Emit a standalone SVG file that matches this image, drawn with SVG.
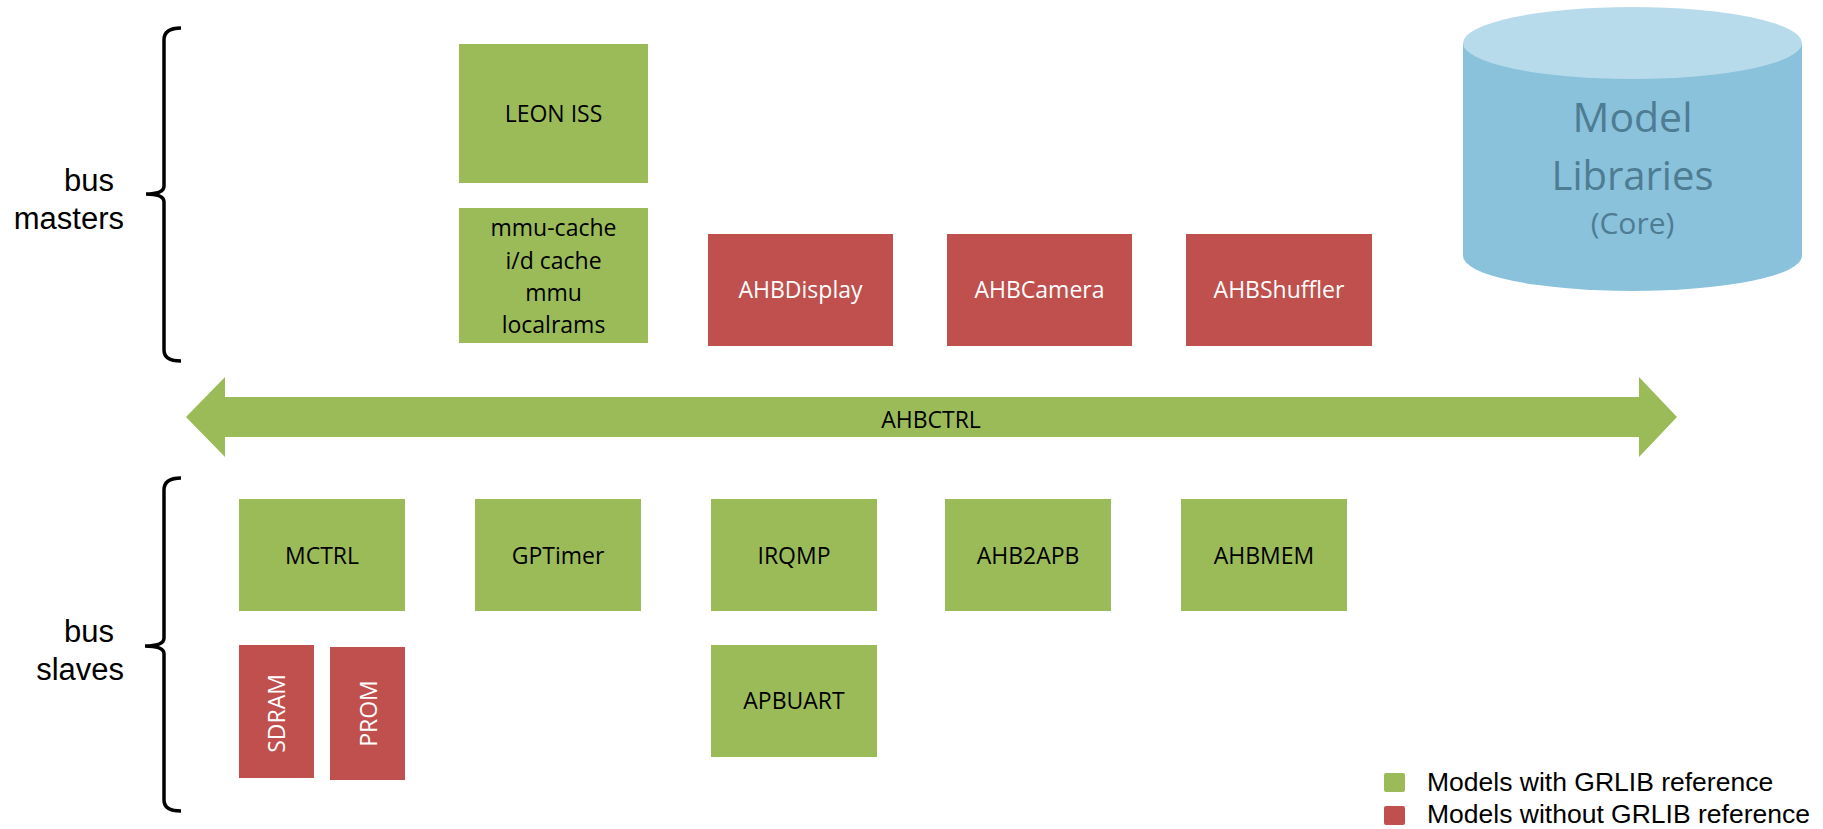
<svg xmlns="http://www.w3.org/2000/svg" width="1823" height="829" viewBox="0 0 1823 829">
<style>
.g{fill:#9bbb59}
.r{fill:#c0504d}
.t{font-family:"Open Sans","Liberation Sans",sans-serif;font-size:23px;text-anchor:middle;fill:#000}
.w{fill:#ffffff}
.lbl{font-family:"Liberation Sans",Arial,sans-serif;font-size:31px;fill:#000;text-anchor:end}
.leg{font-family:"Liberation Sans",Arial,sans-serif;font-size:26.5px;fill:#000}
.br{fill:none;stroke:#000;stroke-width:3.5}
.cyl{font-family:"Open Sans","Liberation Sans",sans-serif;text-anchor:middle;fill:#4e7c93}
</style>
<rect width="1823" height="829" fill="#ffffff"/>
<g id="brackets">
<path class="br" d="M181,28 Q164,28 164,40 L164,186 Q164,194 146,194 Q164,194 164,202 L164,350 Q164,361 181,361"/>
<path class="br" d="M181,478 Q164,478 164,490 L164,638 Q164,646 145,646 Q164,646 164,654 L164,800 Q164,811 181,811"/>
</g>
<g id="label-masters">
<text class="lbl" x="114" y="191">bus</text>
<text class="lbl" x="124" y="229">masters</text>
</g>
<g id="label-slaves">
<text class="lbl" x="114" y="642">bus</text>
<text class="lbl" x="124" y="680">slaves</text>
</g>
<g id="leon-iss">
<rect class="g" x="459" y="44" width="189" height="139"/>
<text class="t" x="553.5" y="122">LEON ISS</text>
</g>
<g id="mmu-cache">
<rect class="g" x="459" y="208" width="189" height="135"/>
<text class="t" x="553.5" y="236">mmu-cache</text>
<text class="t" x="553.5" y="268.5">i/d cache</text>
<text class="t" x="553.5" y="301">mmu</text>
<text class="t" x="553.5" y="333">localrams</text>
</g>
<g id="ahbdisplay">
<rect class="r" x="708" y="234" width="185" height="112"/>
<text class="t w" x="800.5" y="298">AHBDisplay</text>
</g>
<g id="ahbcamera">
<rect class="r" x="947" y="234" width="185" height="112"/>
<text class="t w" x="1039.5" y="298">AHBCamera</text>
</g>
<g id="ahbshuffler">
<rect class="r" x="1186" y="234" width="186" height="112"/>
<text class="t w" x="1279" y="298">AHBShuffler</text>
</g>
<g id="model-libraries">
<path d="M1463,43 L1463,256 A169.5,35 0 0 0 1802,256 L1802,43 Z" fill="#8ac2dc"/>
<ellipse cx="1632.5" cy="43" rx="169.5" ry="36" fill="#b8dbeb"/>
<text class="cyl" x="1632.5" y="132" font-size="41">Model</text>
<text class="cyl" x="1632.5" y="190" font-size="40">Libraries</text>
<text class="cyl" x="1632.5" y="234" font-size="30">(Core)</text>
</g>
<g id="connectors">
<g id="ahbctrl">
<polygon class="g" points="186,417 225,377 225,397 1639,397 1639,377 1677,417 1639,457 1639,437 225,437 225,457"/>
<text class="t" x="931" y="428">AHBCTRL</text>
</g>
</g>
<g id="mctrl">
<rect class="g" x="239" y="499" width="166" height="112"/>
<text class="t" x="322" y="564">MCTRL</text>
</g>
<g id="gptimer">
<rect class="g" x="475" y="499" width="166" height="112"/>
<text class="t" x="558" y="564">GPTimer</text>
</g>
<g id="irqmp">
<rect class="g" x="711" y="499" width="166" height="112"/>
<text class="t" x="794" y="564">IRQMP</text>
</g>
<g id="ahb2apb">
<rect class="g" x="945" y="499" width="166" height="112"/>
<text class="t" x="1028" y="564">AHB2APB</text>
</g>
<g id="ahbmem">
<rect class="g" x="1181" y="499" width="166" height="112"/>
<text class="t" x="1264" y="564">AHBMEM</text>
</g>
<g id="apbuart">
<rect class="g" x="711" y="645" width="166" height="112"/>
<text class="t" x="794" y="709">APBUART</text>
</g>
<g id="sdram">
<rect class="r" x="239" y="645" width="75" height="133"/>
<text class="t w" transform="translate(285,713.5) rotate(-90)" x="0" y="0">SDRAM</text>
</g>
<g id="prom">
<rect class="r" x="330" y="647" width="75" height="133"/>
<text class="t w" transform="translate(377,713.5) rotate(-90)" x="0" y="0">PROM</text>
</g>
<g id="legend">
<rect class="g" x="1384" y="773" width="21" height="19" rx="2"/>
<text class="leg" x="1427" y="791">Models with GRLIB reference</text>
<rect class="r" x="1384" y="806" width="21" height="19" rx="2"/>
<text class="leg" x="1427" y="823">Models without GRLIB reference</text>
</g>
</svg>
